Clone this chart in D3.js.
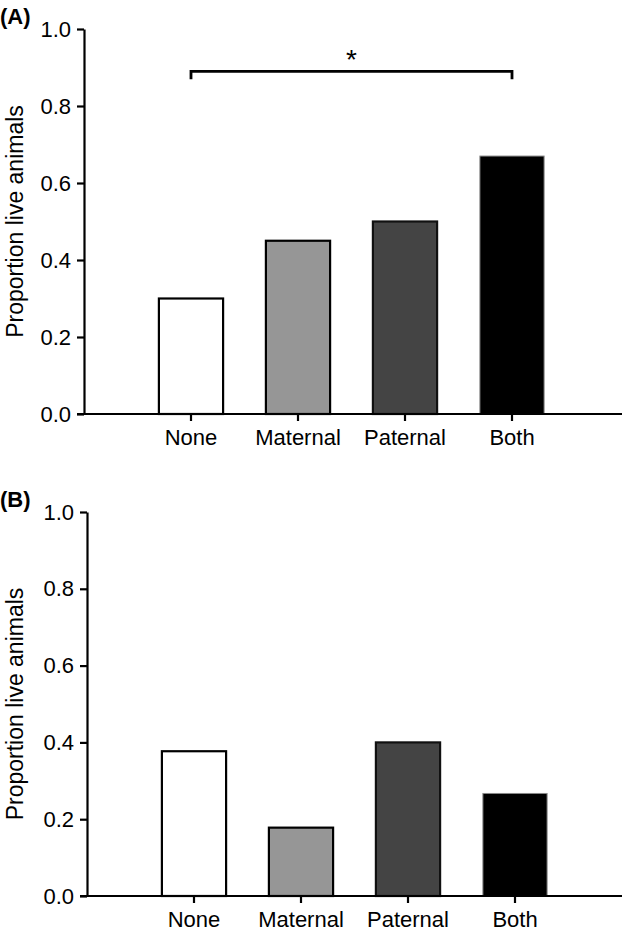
<!DOCTYPE html>
<html>
<head>
<meta charset="utf-8">
<script src="https://cdn.jsdelivr.net/npm/d3@7"></script>
<style>
  body { margin: 0; background: #fff; }
  svg { display: block; font-family: "Liberation Sans", Arial, sans-serif; }
</style>
</head>
<body>
<div id="chart"></div>
<script>
// data
const categories = ["None", "Maternal", "Paternal", "Both"];
const valuesA = [0.30, 0.45, 0.50, 0.67];
const valuesB = [0.377, 0.178, 0.40, 0.267];
const yTicks = [0.0, 0.2, 0.4, 0.6, 0.8, 1.0];
const fills = ["#ffffff", "#969696", "#444444", "#000000"];
const strokes = ["#000", "#000", "#111", "#888"];
// significance bracket for panel A: None vs Both
const bracketA = {from: "None", to: "Both", level: 0.89, label: "*"};

const svg = d3.select("#chart").append("svg")
    .attr("width", 625)
    .attr("height", 936);

function drawPanel(label, values, left, top, bottom, bracket) {
  let step = 107;
  let axisRight = 622;

  // y scale 0..1
  let y = d3.scaleLinear()
      .domain([0, 1])
      .range([bottom, top]);

  // x band scale, first bar one step in from the y axis
  let x = d3.scaleBand()
      .domain(categories)
      .range([left + step / 2, left + step / 2 + step * categories.length])
      .paddingInner(0.4)
      .paddingOuter(0.2);

  let g = svg.append("g");

  // panel label
  g.append("text")
      .attr("x", 0)
      .attr("y", top - 5)
      .attr("font-size", 22)
      .attr("font-weight", "bold")
      .text(label);

  // bars
  g.selectAll("rect.bar")
      .data(values)
      .enter().append("rect")
      .attr("class", "bar")
      .attr("x", (d, i) => x(categories[i]))
      .attr("y", d => y(d))
      .attr("width", x.bandwidth())
      .attr("height", d => y(0) - y(d))
      .attr("fill", (d, i) => fills[i])
      .attr("stroke", (d, i) => strokes[i])
      .attr("stroke-width", (d, i) => i == 3 ? 1 : 2.2);

  // y axis
  let yAxis = g.append("g")
      .attr("transform", "translate(" + left + ",0)")
      .call(d3.axisLeft(y).tickValues(yTicks).tickFormat(d3.format(".1f")).tickSize(7).tickSizeOuter(0));
  yAxis.select(".domain").attr("stroke-width", 2.2);
  yAxis.selectAll(".tick line").attr("stroke-width", 2.2);
  yAxis.selectAll(".tick text")
      .attr("font-size", 22)
      .attr("font-family", "Liberation Sans, Arial, sans-serif")
      .attr("fill", "#000")
      .attr("x", -13);

  // x axis: ticks at bar centres, baseline drawn across the full width
  let xAxis = g.append("g")
      .attr("transform", "translate(0," + bottom + ")")
      .call(d3.axisBottom(x).tickSize(7).tickSizeOuter(0));
  xAxis.select(".domain").remove();
  xAxis.selectAll(".tick line").attr("stroke-width", 2.2);
  xAxis.selectAll(".tick text")
      .attr("font-size", 22)
      .attr("font-family", "Liberation Sans, Arial, sans-serif")
      .attr("fill", "#000")
      .attr("y", 15);

  g.append("line")
      .attr("x1", left - 7)
      .attr("x2", axisRight)
      .attr("y1", bottom)
      .attr("y2", bottom)
      .attr("stroke", "#000")
      .attr("stroke-width", 2.2);

  // y axis title
  g.append("text")
      .attr("text-anchor", "middle")
      .attr("font-size", 23)
      .attr("transform", "translate(" + 23 + "," + ((top + bottom) / 2) + ")rotate(-90)")
      .text("Proportion live animals");

  if (bracket) {
    let x1 = x(bracket.from) + x.bandwidth() / 2;
    let x2 = x(bracket.to) + x.bandwidth() / 2;
    let yb = y(bracket.level);
    g.append("path")
        .attr("d", "M" + x1 + "," + (yb + 8) + "V" + yb + "H" + x2 + "V" + (yb + 8))
        .attr("fill", "none")
        .attr("stroke", "#000")
        .attr("stroke-width", 2.8);
    g.append("text")
        .attr("x", (x1 + x2) / 2)
        .attr("y", yb - 2)
        .attr("text-anchor", "middle")
        .attr("font-size", 28)
        .text(bracket.label);
  }
}

drawPanel("(A)", valuesA, 84, 29, 414, bracketA);
drawPanel("(B)", valuesB, 87, 512, 896, null);
</script>
</body>
</html>
